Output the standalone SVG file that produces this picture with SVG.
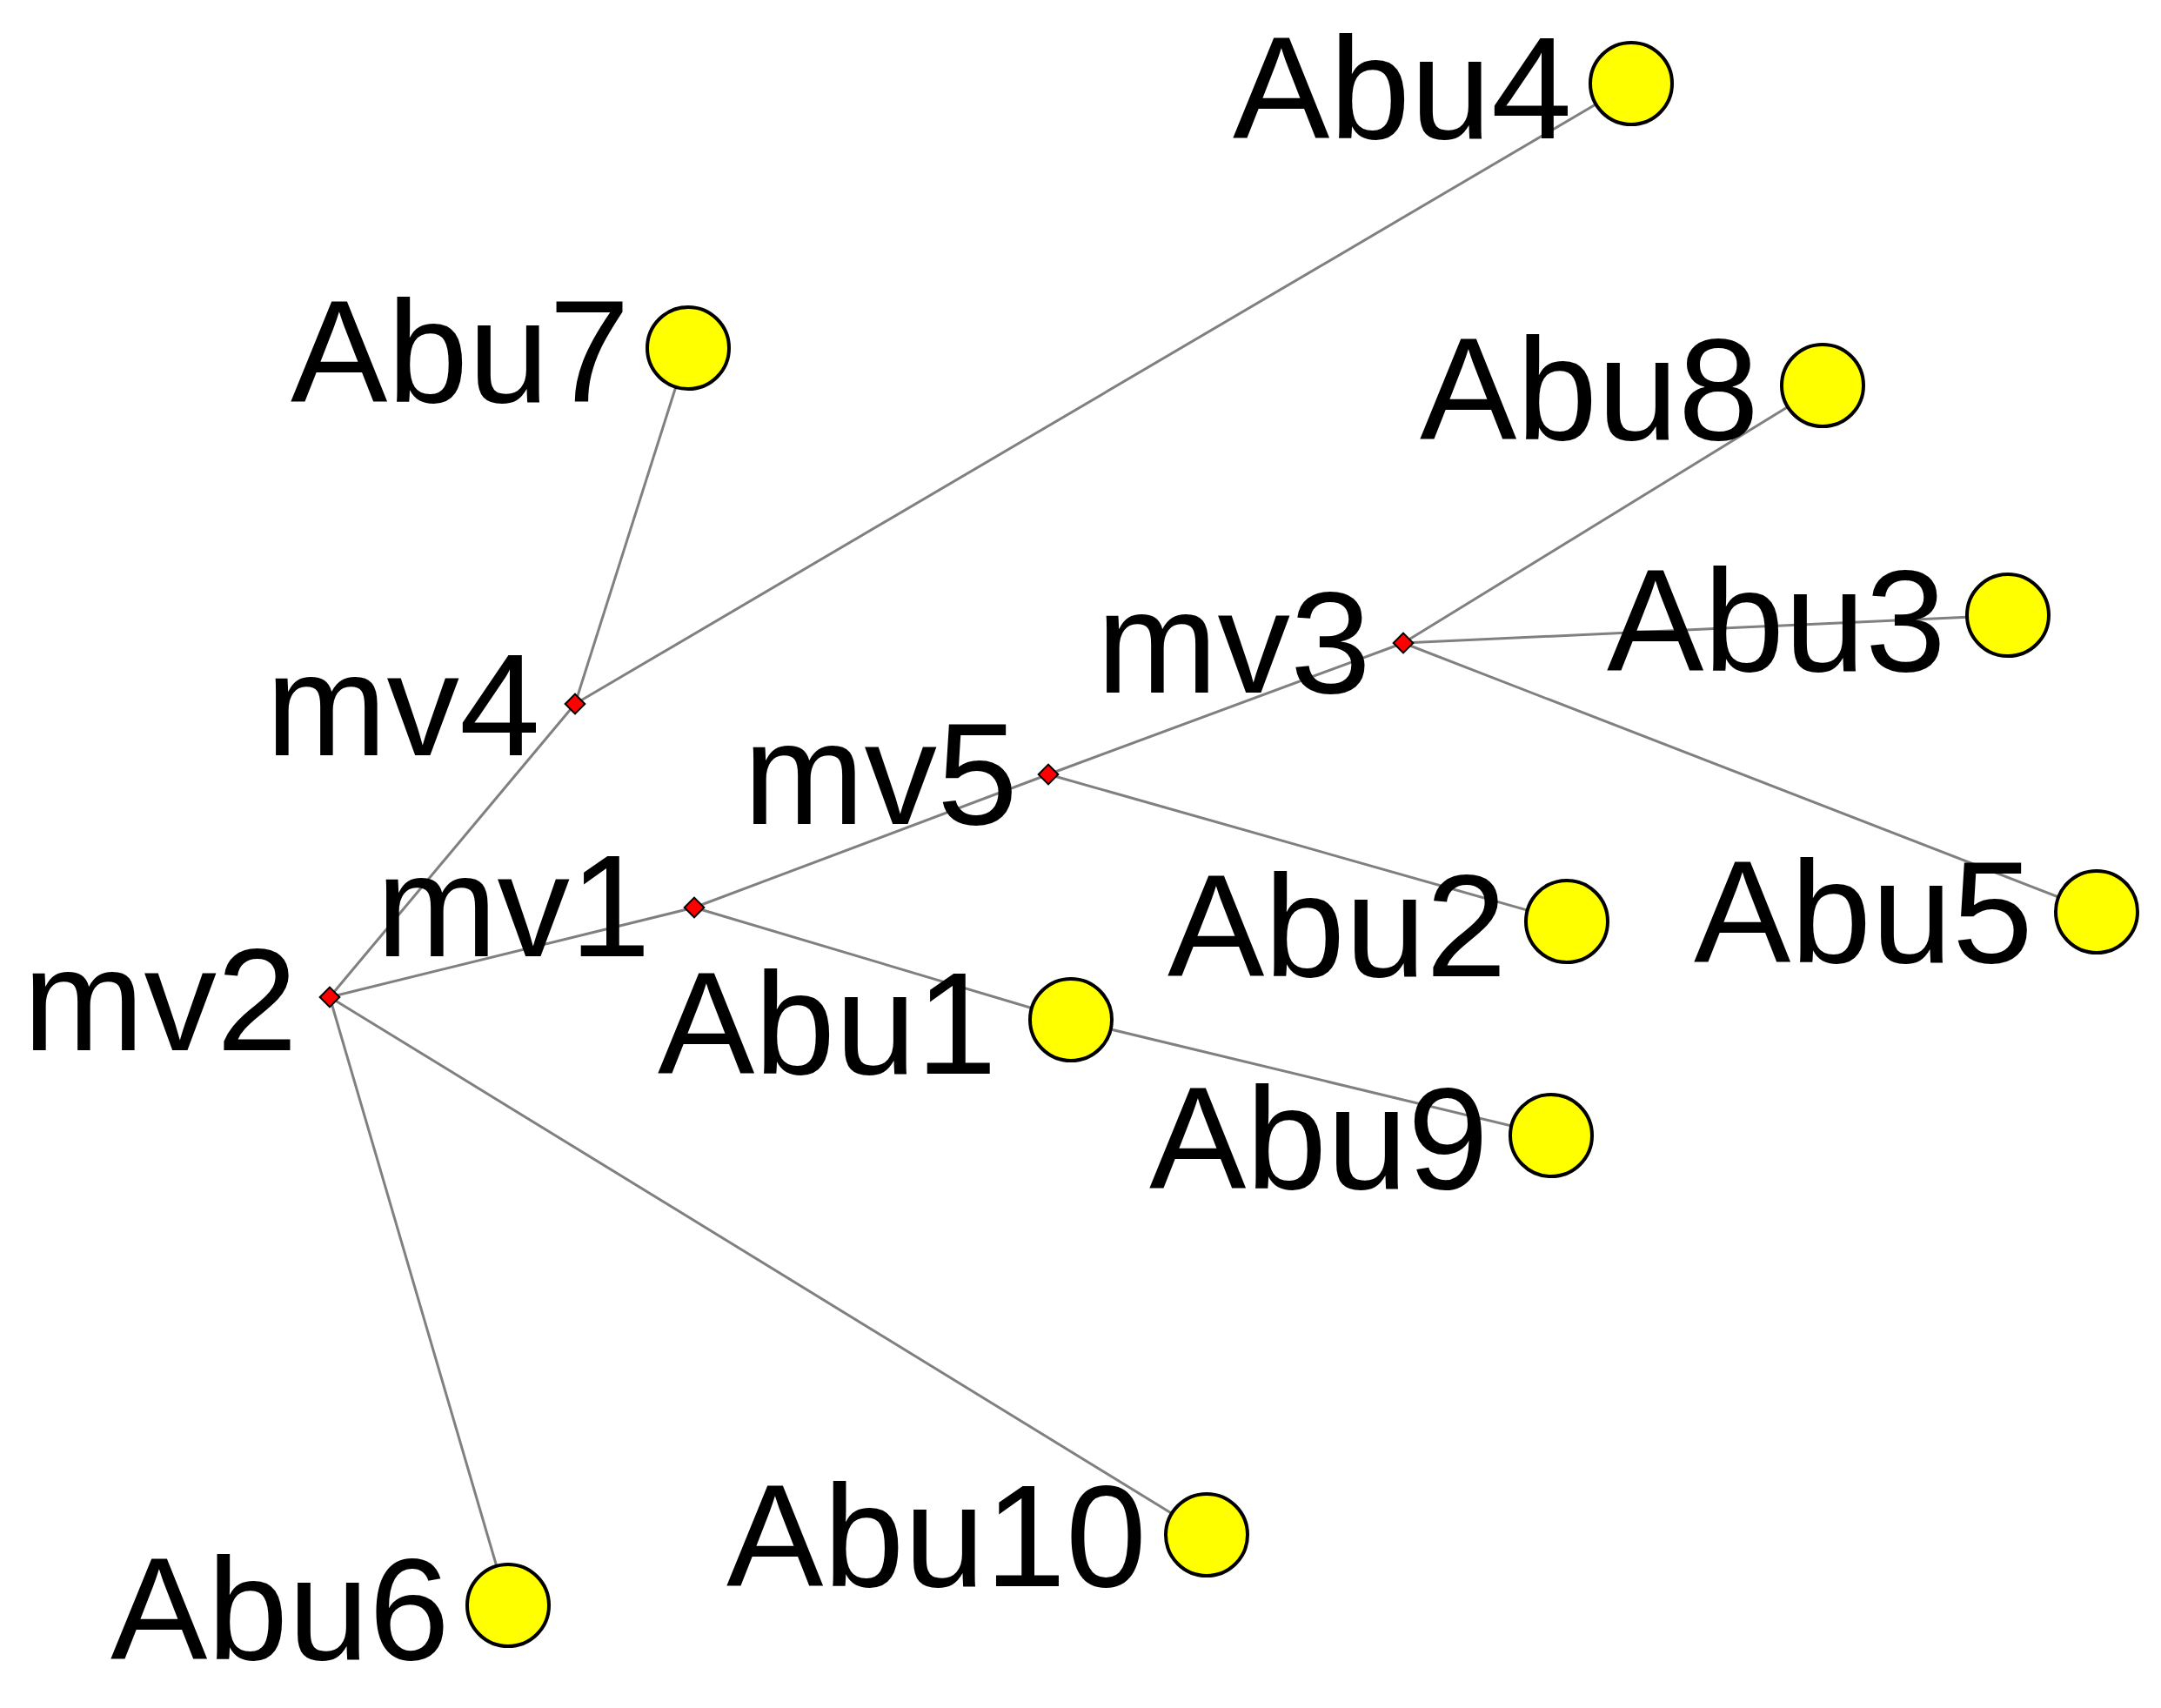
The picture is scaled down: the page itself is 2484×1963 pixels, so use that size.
<svg xmlns="http://www.w3.org/2000/svg" width="2484" height="1963" viewBox="0 0 2484 1963">
<style>
.e{stroke:#808080;stroke-width:3;fill:none}
.a circle{fill:#ffff00;stroke:#000;stroke-width:4}
.m rect{fill:#ff0000;stroke:#000;stroke-width:2}
text{font-family:"Liberation Sans",Arial,sans-serif;font-size:167px;fill:#000;text-anchor:end}
</style>
<rect width="2484" height="1963" fill="#fff"/>
<g id="edges">
<line class="e" x1="379" y1="1146" x2="661" y2="809"/>
<line class="e" x1="661" y1="809" x2="791" y2="400"/>
<line class="e" x1="661" y1="809" x2="1875" y2="96"/>
<line class="e" x1="379" y1="1146" x2="798" y2="1043"/>
<line class="e" x1="798" y1="1043" x2="1205" y2="890"/>
<line class="e" x1="1205" y1="890" x2="1613" y2="739"/>
<line class="e" x1="1613" y1="739" x2="2095" y2="443"/>
<line class="e" x1="1613" y1="739" x2="2308" y2="707"/>
<line class="e" x1="1613" y1="739" x2="2410" y2="1048"/>
<line class="e" x1="1205" y1="890" x2="1801" y2="1059"/>
<line class="e" x1="798" y1="1043" x2="1231" y2="1172"/>
<line class="e" x1="1231" y1="1172" x2="1783" y2="1305"/>
<line class="e" x1="379" y1="1146" x2="1387" y2="1764"/>
<line class="e" x1="379" y1="1146" x2="584" y2="1845"/>
</g>
<g id="Abu4" class="a"><text x="1807" y="159">Abu4</text><circle cx="1875" cy="96" r="47"/></g>
<g id="Abu7" class="a"><text x="724" y="462">Abu7</text><circle cx="791" cy="400" r="47"/></g>
<g id="Abu8" class="a"><text x="2022" y="505">Abu8</text><circle cx="2095" cy="443" r="47"/></g>
<g id="Abu3" class="a"><text x="2237" y="771">Abu3</text><circle cx="2308" cy="707" r="47"/></g>
<g id="Abu5" class="a"><text x="2337" y="1106">Abu5</text><circle cx="2410" cy="1048" r="47"/></g>
<g id="Abu2" class="a"><text x="1732" y="1122">Abu2</text><circle cx="1801" cy="1059" r="47"/></g>
<g id="Abu1" class="a"><text x="1146" y="1234">Abu1</text><circle cx="1231" cy="1172" r="47"/></g>
<g id="Abu9" class="a"><text x="1711" y="1366">Abu9</text><circle cx="1783" cy="1305" r="47"/></g>
<g id="Abu10" class="a"><text x="1318" y="1823">Abu10</text><circle cx="1387" cy="1764" r="47"/></g>
<g id="Abu6" class="a"><text x="517" y="1907">Abu6</text><circle cx="584" cy="1845" r="47"/></g>
<g id="mv4" class="m"><text x="621" y="868">mv4</text><rect x="653" y="801" width="16" height="16" transform="rotate(45 661 809)"/></g>
<g id="mv5" class="m"><text x="1170" y="947">mv5</text><rect x="1197" y="882" width="16" height="16" transform="rotate(45 1205 890)"/></g>
<g id="mv3" class="m"><text x="1576" y="796">mv3</text><rect x="1605" y="731" width="16" height="16" transform="rotate(45 1613 739)"/></g>
<g id="mv1" class="m"><text x="748" y="1099">mv1</text><rect x="790" y="1035" width="16" height="16" transform="rotate(45 798 1043)"/></g>
<g id="mv2" class="m"><text x="342" y="1207">mv2</text><rect x="371" y="1138" width="16" height="16" transform="rotate(45 379 1146)"/></g>
</svg>
